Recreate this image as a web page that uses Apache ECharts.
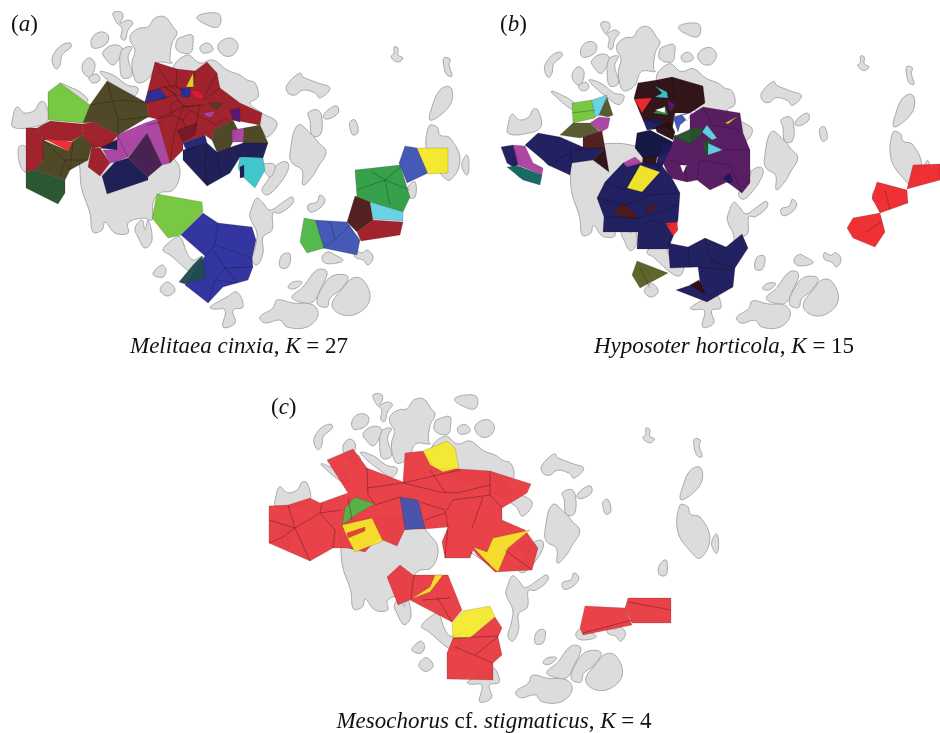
<!DOCTYPE html>
<html><head><meta charset="utf-8">
<style>html,body{margin:0;padding:0;background:#fff}#c{width:940px;height:733px}</style>
<script src="https://cdn.jsdelivr.net/npm/echarts@6/dist/echarts.min.js"></script>
</head><body><div id="c"></div>
<script>
// Island outlines, in shared map units
const islands = [
[70,43,62,45,55,52,52,60,56,69,60,65,62,55,71,47],
[132,33,140,28,148,27,155,18,165,17,173,27,177,33,172,43,170,60,172,63,157,63,150,77,140,83,135,80,132,63,135,50,130,40],
[113,13,121,12,123,17,120,23,128,20,133,23,128,30,125,40,121,38,122,28,117,23],
[92,38,100,32,108,35,107,43,98,48,92,47],
[103,52,113,45,122,48,119,58,113,65,105,58],
[122,50,132,47,128,57,132,75,123,78,120,67],
[83,63,90,58,95,65,90,77,83,72],
[89,78,97,74,100,80,93,83],
[100,72,113,75,127,85,138,88,133,97,120,90],
[13,117,17,107,25,113,35,110,40,102,45,103,48,120,33,127,13,127],
[60,83,72,88,80,92,88,100,83,103,60,85],
[173,70,187,55,200,63,213,60,227,70,240,75,247,80,255,83,258,97,250,103,262,113,277,123,267,137,260,127,240,115,190,90],
[177,40,182,37,192,35,193,43,190,53,177,50],
[200,47,208,43,213,50,203,53],
[218,45,230,38,238,45,233,55,223,55],
[197,17,208,13,220,15,218,27,203,23],
[394,47,398,48,398,55,403,58,398,62,391,57,394,53],
[444,58,450,59,449,65,452,76,447,75,444,67],
[430,120,432,107,440,90,450,87,452,100,443,113],
[427,153,429,126,437,127,440,135,450,138,460,160,450,180,440,173],
[462,163,467,155,469,167,467,175,463,170],
[350,122,355,120,358,132,353,135,350,128],
[287,85,300,73,303,77,318,83,330,88,320,98,315,93,303,90,295,95,288,93],
[323,117,328,110,337,106,338,113,328,119],
[308,113,318,110,322,120,320,135,312,135,310,120],
[290,153,298,125,312,135,318,142,326,152,318,167,312,177,303,185,302,170,292,163],
[262,190,268,180,277,165,287,162,288,170,277,187,267,195],
[263,165,275,165,270,177],
[408,187,415,182,415,197,408,197],
[80,150,80,170,82,190,90,213,93,232,102,230,105,222,115,233,128,233,128,223,143,218,152,220,153,203,160,193,173,190,180,173,175,160,150,140,100,140],
[19,147,26,147,26,172,20,165],
[135,228,142,220,145,230,148,220,152,240,145,248,138,237],
[163,250,172,240,180,237,187,253,193,260,203,257,200,273,192,273,170,255],
[153,273,162,265,166,270,163,277,155,276],
[161,287,168,282,175,290,168,296,161,292],
[210,307,227,297,237,292,243,307,233,310,235,323,223,327,225,310,213,309],
[252,207,257,198,263,203,270,210,282,203,292,197,293,203,280,213,273,213,272,230,263,237,263,253,257,265,252,260,255,248,257,233,250,217],
[282,255,290,254,288,267,280,267],
[308,205,317,202,320,195,325,200,320,208,310,212],
[322,257,328,252,335,255,343,260,337,263,325,263],
[355,250,362,253,367,250,373,257,368,265,363,260,355,257],
[288,287,293,282,302,282,298,287,292,289],
[292,297,303,287,317,270,327,272,320,290,313,302,300,302],
[317,303,325,283,335,275,348,277,340,290,330,298,327,307],
[332,305,343,288,353,278,363,280,370,298,360,312,343,315],
[260,317,273,308,277,300,293,303,313,305,318,315,307,327,287,327,280,320,265,323]
];

// Habitat patches for each species: [cluster, outline]
const patchesA = [
['lime',[48,92,60,83,90,105,83,123,48,120]],
['maroon',[26,128,37,128,43,140,43,160,35,170,26,172]],
['maroon',[37,128,50,121,83,124,82,135,72,141,43,140]],
['olive',[43,140,68,151,73,141,82,135,92,145,88,160,70,170,65,180,35,170,43,160]],
['red',[43,138,73,142,68,151]],
['forest',[26,172,35,170,65,180,65,193,58,204,26,188]],
['maroon',[83,124,93,122,118,135,108,147,93,147,82,135]],
['maroon',[93,147,100,148,110,163,100,176,88,167,92,145]],
['olive',[107,81,147,103,148,117,118,135,93,122,83,123,90,105]],
['navy',[100,148,118,139,117,150]],
['orchid',[103,150,117,150,117,135,145,123,157,119,170,163,162,165,147,133,128,157,115,162,110,163]],
['plum',[147,133,162,165,148,177,128,158]],
['navy',[115,162,128,158,148,177,148,180,107,194,102,176]],
['maroon',[145,102,155,62,177,69,195,71,207,62,217,73,220,88,240,103,262,113,260,125,233,120,213,130,212,140,205,135,183,143,183,150,170,163,157,119,148,117,147,103]],
['indigo',[145,102,148,92,160,89,167,98]],
['indigo',[180,88,190,88,190,97,182,97]],
['yellow',[186,87,193,73,194,87]],
['crimson',[190,91,197,90,204,95,202,100,195,98]],
['orchid',[203,113,215,111,212,117,207,117]],
['olive',[208,103,222,103,217,110]],
['wine',[177,130,197,123,195,135,183,142]],
['olive',[213,130,233,120,238,130,230,148,217,152,212,140]],
['violet',[230,110,240,108,240,122,233,120]],
['orchid',[232,130,244,128,243,142,232,142]],
['olive',[244,128,260,125,268,143,243,143]],
['deep',[183,143,205,135,207,143,187,152]],
['navy',[183,150,207,143,217,152,243,143,268,143,263,158,240,157,230,173,207,186,183,160]],
['teal',[240,157,263,158,265,170,255,188,243,177,238,168]],
['navy',[240,167,244,165,244,177,240,178]],
['lime',[157,194,202,202,203,212,181,235,168,238,152,218]],
['indigo',[203,213,218,223,252,227,256,240,252,258,253,267,248,280,237,283,223,287,208,303,185,285,205,256,181,235]],
['pine',[202,256,206,277,185,284,179,282,193,265]],
['green',[355,170,400,165,410,197,403,212,370,202,357,197]],
['blue',[405,146,417,148,428,173,407,183,399,163]],
['yellow2',[417,148,448,148,448,173,428,174]],
['brown',[355,196,370,202,373,220,357,232,347,222]],
['sky',[370,202,403,212,403,221,373,219]],
['maroon',[373,220,403,222,400,235,361,241,357,232]],
['blue',[315,220,347,222,360,240,357,255,323,248]],
['grass',[304,218,315,220,324,248,307,253,300,242]]
];
const patchesB = [
['lime',[572,103,592,100,595,118,573,123]],
['sky',[592,100,607,95,600,115,595,117]],
['moss',[607,97,613,115,608,117,599,115]],
['orchid',[599,117,610,118,608,128,601,132,590,123]],
['moss',[573,123,590,123,600,132,580,138,560,135]],
['brown',[583,137,602,131,605,148,583,148]],
['navy2',[525,145,538,133,560,137,585,148,605,148,593,160,572,163,570,175,548,165,543,160]],
['umber',[605,148,609,172,593,160]],
['navy2',[501,147,513,145,523,163,513,167,507,163]],
['orchid',[513,145,525,146,533,163,543,168,542,175,518,165]],
['sea',[507,167,518,166,542,175,540,185,523,180]],
['umber',[634,98,638,83,657,80,672,77,703,86,705,103,690,113,675,113,672,130,643,120,640,113]],
['red',[634,99,652,98,642,113]],
['teal',[655,86,667,92,668,98,655,97,662,93]],
['green',[653,113,665,106,668,115]],
['white',[655,110,665,107,665,113]],
['violet',[667,100,676,105,670,112]],
['navy2',[643,120,660,119,663,128,647,130]],
['blue',[673,117,687,113,692,115,680,125,678,132]],
['white',[682,115,692,113,687,121]],
['ink',[637,133,650,130,673,142,668,152,657,157,643,158,635,148]],
['umber',[655,127,670,122,675,132,673,140,657,132]],
['purple',[690,115,703,107,740,113,743,133,750,150,750,183,742,193,727,182,710,190,697,180,687,182,670,178,663,163,673,142,675,135,690,143]],
['forest',[673,137,693,128,702,128,702,135,690,144]],
['forest',[702,143,710,138,710,153,706,156]],
['sky',[702,132,707,125,717,138,712,140]],
['sky',[708,143,723,150,708,155]],
['yellow',[725,123,738,116,728,124]],
['navy2',[723,178,730,173,733,182,728,183]],
['white',[680,165,687,165,683,173]],
['navy2',[655,168,662,143,673,143,665,160,660,172]],
['umber',[643,157,657,157,660,145,655,167,642,165]],
['navy2',[597,198,605,182,623,163,660,163,673,180,680,193,678,220,673,237,668,249,637,249,638,232,603,232,604,217]],
['orchid',[623,163,635,157,642,163,627,167]],
['yellow2',[640,165,660,172,642,192,627,188]],
['brown',[613,212,623,203,637,215,632,220]],
['brown',[645,213,651,203,657,209]],
['red',[665,223,677,222,678,230,673,236]],
['navy2',[668,243,688,247,705,238,726,247,742,234,748,248,735,268,733,287,707,302,676,290,700,282,698,267,670,268]],
['umber',[690,285,699,280,706,295]],
['khaki',[637,261,668,273,640,288,632,275]],
['red',[877,182,907,190,908,203,880,213,872,198]],
['red',[847,228,853,218,880,213,885,232,875,247,853,238]],
['red',[913,165,940,164,940,180,907,189]]
];
const patchesC = [
['scarlet',[269,506,288,505,310,498,320,503,348,493,327,460,353,449,367,468,403,482,405,453,423,451,437,468,460,469,490,471,531,484,527,493,502,508,502,520,525,530,538,548,532,570,495,572,477,555,473,550,470,558,445,558,442,542,448,527,425,529,405,529,397,546,378,538,365,552,347,548,333,548,310,561,269,543]],
['yellow2',[423,451,447,441,455,448,459,468,443,472,430,465]],
['blue',[400,497,418,500,425,528,405,530]],
['grass',[342,525,345,508,355,497,375,504,357,514]],
['yellow2',[342,525,372,518,383,541,355,552,347,537]],
['scarlet',[347,533,365,527,365,531,348,538]],
['yellow2',[473,547,487,552,493,538,530,530,508,548,498,572,490,565]],
['scarlet',[387,577,400,565,413,575,448,575,462,610,452,622,410,600,398,605]],
['yellow2',[411,599,430,587,435,575,443,575,430,592]],
['yellow2',[452,623,463,611,490,606,495,617,470,638,453,638]],
['scarlet',[495,617,502,628,498,637,502,655,493,663,493,680,447,679,447,653,453,638,470,638]],
['scarlet',[585,606,625,608,632,625,583,635,580,628]],
['scarlet',[628,598,671,598,671,623,632,623,625,608]]
];

// Boundaries between neighbouring patches of the same cluster
const edgesA = [
[155,62,172,88,180,88],[177,69,176,87],[195,71,193,87],[147,103,175,95,183,107,157,119],[148,92,165,87,175,95],
[183,107,175,130,170,163],[183,107,205,105],[195,130,200,105,183,107],[217,73,205,95],[220,88,203,100],
[170,105,178,100,190,110,183,120,172,115,170,105],[190,110,205,120],[183,120,186,130],[172,115,160,118],[165,87,175,85,185,92,178,96,165,87],[205,118,215,125,225,118,232,125],
[107,81,118,120,118,135],[90,105,122,100,147,103],[118,120,148,117],
[43,140,65,160,88,160],[65,160,70,170],[65,160,60,177],[73,141,70,170],
[218,223,215,245,205,256],[215,245,252,258],[213,250,225,268,253,267],[225,268,215,280,208,303],[215,280,237,283],[225,268,238,283],
[357,190,385,180,410,190],[385,180,403,165],[385,180,390,205],[372,172,385,180],
[207,143,205,165,207,186],[217,152,220,178],[240,157,235,145],[117,135,128,157],[147,125,162,122],[330,222,335,240,350,225],[335,240,323,248]
];
const edgesB = [
[605,182,625,190,640,165],[597,198,625,205,650,195,680,193],[604,217,640,218,678,205],[638,232,650,220,670,225],[668,249,670,237],
[688,247,690,268],[705,238,712,262,735,268],[726,247,712,262],[698,267,733,270],
[703,107,712,125,740,130],[720,150,750,150],[697,180,700,160,730,165,742,193],[687,182,685,165,670,160],
[543,160,560,137],[570,145,572,163],[548,165,575,150,605,148],[672,77,675,113],[657,80,660,95],[572,113,595,110],[640,268,650,288],[885,190,890,210],[865,232,882,222]
];
const edgesC = [
[288,505,295,528,310,561],[269,520,295,528,320,513,322,503],[295,528,283,537,269,543],[320,513,335,530,333,548],[320,513,342,510],
[367,468,368,495,375,504],[367,488,403,483,460,470],[403,483,440,492,457,493,490,485],[420,502,445,510],[425,520,445,513],[375,505,400,497],
[447,510,453,500,490,495,490,471],[490,495,502,508],[445,510,448,527],[483,497,472,528],[430,470,445,492],
[628,602,671,610],[583,633,632,620],[455,647,493,663],[453,638,498,636],[498,637,475,655],
[414,575,411,599],[422,600,450,598],[437,597,452,622],[470,552,490,565],[505,550,532,570],[348,498,352,520],[445,558,448,527]
];

const speciesNames = ['Melitaea cinxia','Hyposoter horticola','Mesochorus'];
const speciesK = [27,15,4];

const clusterColors = {lime:'#74c63e',maroon:'#9e1c26',olive:'#4a4320',red:'#ee2a2e',forest:'#25522c',navy:'#1a1a54',orchid:'#aa42a2',plum:'#451b4e',
indigo:'#2c2e9d',yellow:'#dcd92c',crimson:'#d81c30',wine:'#781a28',violet:'#551a77',deep:'#1e2276',teal:'#39c5ca',pine:'#1f4c50',green:'#2f9e44',blue:'#3f55b5',
yellow2:'#f5e82a',brown:'#4e1a1c',sky:'#62d2e4',grass:'#50b848',moss:'#55562a',navy2:'#1b1a5c',umber:'#2b0e12',sea:'#10665f',white:'#ffffff',ink:'#10123f',purple:'#55175f',khaki:'#5a6024',scarlet:'#e8343b'};

const pairs = f => { const o=[]; for(let i=0;i<f.length;i+=2) o.push([f[i],f[i+1]]); return o; };

function polySeries(rows, xi, yi, style, z, smooth){
  return {type:'custom',xAxisIndex:xi,yAxisIndex:yi,coordinateSystem:'cartesian2d',clip:true,z:z,silent:true,
    data:rows.map((r,i)=>[i]),
    encode:{x:0,y:0},
    renderItem:(p,api)=>{
      const r=rows[api.value(0)];
      const pts=pairs(r.pts).map(q=>api.coord(q));
      return {type:r.open?'polyline':'polygon',shape:{points:pts,smooth:smooth||0},style:style(r),silent:true};
    }};
}
const axisPair = (gi,xr,yr)=>({
  x:{type:'value',gridIndex:gi,min:xr[0],max:xr[1],show:false},
  y:{type:'value',gridIndex:gi,min:yr[0],max:yr[1],inverse:true,show:false}
});
const grids=[
 {left:0,top:0,width:480,height:340},
 {left:496.4,top:10.6,width:465.6,height:329},
 {left:263.3,top:382.4,width:466,height:332},
 {left:0,top:0,width:940,height:733}
];
const ax=[axisPair(0,[0,480],[0,340]),axisPair(1,[0,480],[0,340]),axisPair(2,[0,480],[0,340]),axisPair(3,[0,940],[0,733])];

const islandRows=islands.map(p=>({pts:p}));
const islandStyle=()=>({fill:'#dcdcdc',stroke:'#a9a9a9',lineWidth:1,lineJoin:'round'});
const series=[0,1,2].map(g=>polySeries(islandRows,g,g,islandStyle,1,0.4));
[patchesA,patchesB,patchesC].forEach((P,i)=>{
  const op=i===2?0.93:0.97;
  series.push(polySeries(P.map(c=>({k:c[0],pts:c[1]})),3,3,r=>({fill:clusterColors[r.k],opacity:r.k==='white'?1:op,stroke:'rgba(40,20,20,0.3)',lineWidth:0.6}),2+i));
});
[edgesA,edgesB,edgesC].forEach((E,i)=>{
  series.push(polySeries(E.map(p=>({pts:p,open:true})),3,3,()=>({stroke:i===2?'rgba(70,20,30,0.6)':'rgba(15,10,15,0.4)',fill:null,lineWidth:0.7}),6));
});

const serif='"Liberation Serif","Times New Roman",serif';
const rich={i:{fontFamily:serif,fontStyle:'italic',fontWeight:'normal',fontSize:23,color:'#111'},r:{fontFamily:serif,fontWeight:'normal',fontSize:23,color:'#111'}};
const title=(text,left,top,align)=>({text,left,top,textAlign:align||'left',textStyle:{rich,fontFamily:serif,fontWeight:'normal',fontSize:23},padding:0});
const chart=echarts.init(document.getElementById('c'),null,{renderer:'canvas'});
chart.setOption({
  animation:false,backgroundColor:'#fff',
  title:[
    title('{r|(}{i|a}{r|)}',11,13),
    title('{r|(}{i|b}{r|)}',500,13),
    title('{r|(}{i|c}{r|)}',271,396),
    title('{i|'+speciesNames[0]+'}{r|, }{i|K}{r| = '+speciesK[0]+'}',239,335,'center'),
    title('{i|'+speciesNames[1]+'}{r|, }{i|K}{r| = '+speciesK[1]+'}',724,335,'center'),
    title('{i|'+speciesNames[2]+'}{r| cf. }{i|stigmaticus}{r|, }{i|K}{r| = '+speciesK[2]+'}',494,710,'center')
  ],
  grid:grids,
  xAxis:ax.map(a=>a.x),yAxis:ax.map(a=>a.y),
  series
});
</script></body></html>
